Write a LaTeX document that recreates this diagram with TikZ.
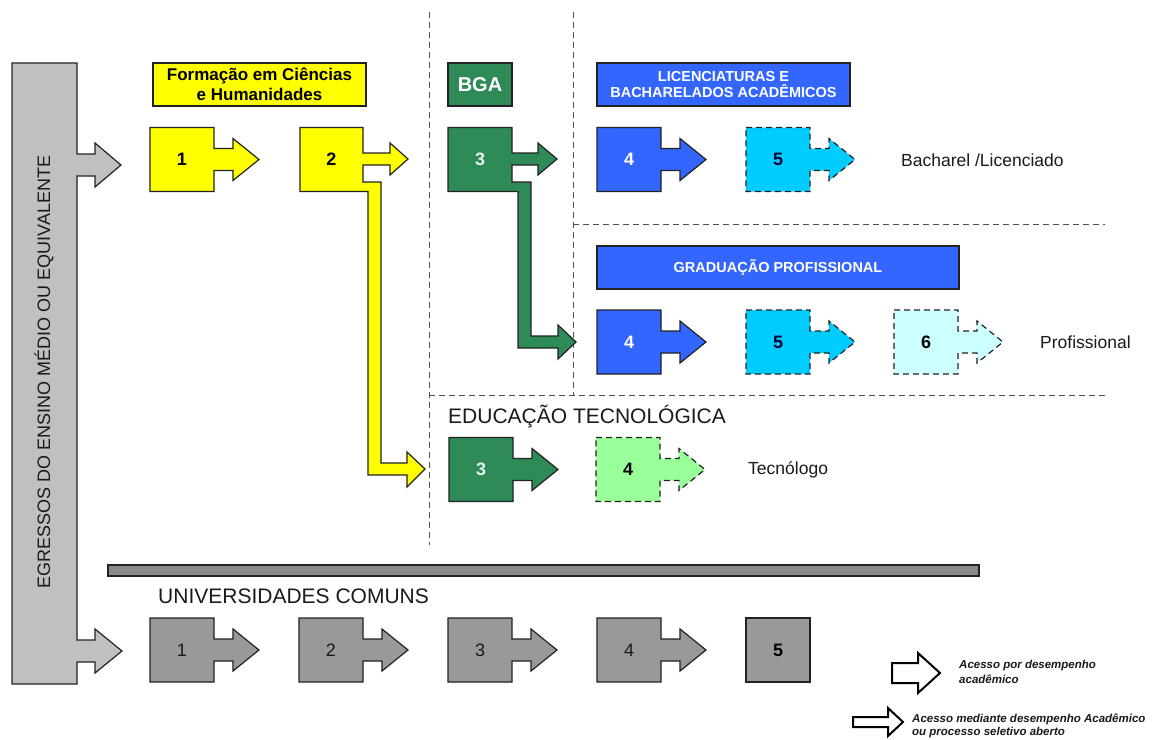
\documentclass[tikz,border=0pt]{standalone}
\usepackage{fontspec}
\setmainfont{Liberation Sans}
\definecolor{cYel}{RGB}{255,255,0}
\definecolor{cGrn}{RGB}{46,139,87}
\definecolor{cBlu}{RGB}{51,102,255}
\definecolor{cCya}{RGB}{0,204,255}
\definecolor{cLcy}{RGB}{204,255,255}
\definecolor{cLgr}{RGB}{153,255,153}
\definecolor{cGry}{RGB}{153,153,153}
\definecolor{cBar}{RGB}{192,192,192}
\definecolor{cDbar}{RGB}{138,138,138}
\definecolor{cLine}{RGB}{34,34,34}
\definecolor{cDash}{RGB}{80,80,80}
\definecolor{cTxt}{RGB}{26,26,26}
\newcommand{\ArrBox}[3]{\draw[#3] (#1,#2-32) -- ++(64,0) -- ++(0,21) -- ++(19,0) -- ++(0,-10) -- ++(26,21) -- ++(-26,21) -- ++(0,-10) -- ++(-19,0) -- ++(0,21) -- ++(-64,0) -- cycle;}
\tikzset{
  shp/.style={draw=cLine, line width=1.2pt, line join=miter},
  dsh/.style={shp, dash pattern=on 6pt off 4pt},
  sep/.style={draw=cDash, line width=0.9pt, dash pattern=on 6pt off 4pt},
  num/.style={font=\fontsize{18}{18}\selectfont\bfseries, inner sep=0pt},
  numr/.style={font=\fontsize{18}{18}\selectfont, inner sep=0pt, text=cTxt},
  lbl/.style={shp, inner sep=0pt, align=center},
  big/.style={font=\fontsize{21}{21}\selectfont, text=cTxt, inner sep=0pt, anchor=base west},
  outc/.style={font=\fontsize{17.5}{17.5}\selectfont, text=cTxt, inner sep=0pt, anchor=west},
  leg/.style={font=\fontsize{11.5}{11.5}\selectfont\bfseries\itshape, text=cTxt, inner sep=0pt, anchor=base west},
}
\begin{document}
\begin{tikzpicture}[x=1pt,y=-1pt]
\path[use as bounding box, fill=white] (0,0) rectangle (1156,739);

% separators
\draw[sep] (429,12) -- (429,545);
\draw[sep] (573,12) -- (573,395);
\draw[sep] (573,224) -- (1105,224);
\draw[sep] (429,395) -- (1105,395);

% left gray bar with two arrows
\draw[shp, fill=cBar] (12,63) -- (77,63) -- (77,154) -- (95,154) -- (95,143) -- (121,165) -- (95,187) -- (95,176) -- (77,176)
  -- (77,640) -- (95,640) -- (95,629) -- (122,651) -- (95,673) -- (95,662) -- (77,662) -- (77,684) -- (12,684) -- cycle;
\node[rotate=90, font=\fontsize{18}{18}\selectfont, text=cTxt] (egr) at (44,372) {EGRESSOS DO ENSINO MÉDIO OU EQUIVALENTE};

% header labels
\node[lbl, fill=cYel, minimum width=213pt, minimum height=43pt, font=\fontsize{17}{20}\selectfont\bfseries] (hfch) at (259.5,84.5) {Formação em Ciências\\e Humanidades};
\node[lbl, fill=cGrn, minimum width=64pt, minimum height=43pt, font=\fontsize{20}{20}\selectfont\bfseries, text=white] (hbga) at (480,84.5) {BGA};
\node[lbl, fill=cBlu, minimum width=253pt, minimum height=43pt, font=\fontsize{14.5}{16.5}\selectfont\bfseries, text=white] (hlic) at (723.5,84.5) {LICENCIATURAS E\\BACHARELADOS ACADÊMICOS};
\node[lbl, fill=cBlu, minimum width=362pt, minimum height=43pt, font=\fontsize{14.5}{16.5}\selectfont\bfseries, text=white] (hgrad) at (778,267.5) {GRADUAÇÃO PROFISSIONAL};

% top row
\ArrBox{150}{159.5}{shp, fill=cYel}
\node[num] (t1) at (182,159.5) {1};
\draw[shp, fill=cYel] (300,127.5) -- (363,127.5) -- (363,153) -- (390,153) -- (390,143) -- (408,159) -- (390,175) -- (390,165) -- (363,165) -- (363,182)
  -- (381,182) -- (381,463) -- (407,463) -- (407,452) -- (425,469) -- (407,487) -- (407,475) -- (368,475) -- (368,191.5) -- (300,191.5) -- cycle;
\node[num] (t2) at (331.5,159.5) {2};
\draw[shp, fill=cGrn] (448,127.5) -- (512,127.5) -- (512,153) -- (538,153) -- (538,143) -- (557,159) -- (538,175) -- (538,165) -- (512,165) -- (512,182)
  -- (531,182) -- (531,336) -- (558,336) -- (558,325) -- (576,342) -- (558,359) -- (558,348) -- (518,348) -- (518,191.5) -- (448,191.5) -- cycle;
\node[num, text=white!90!cGrn] (t3) at (480,159.5) {3};
\ArrBox{597}{159.5}{shp, fill=cBlu}
\node[num, text=white] (t4) at (629,159.5) {4};
\ArrBox{746}{159.5}{dsh, fill=cCya}
\node[num, text=black!80!blue] (t5) at (778,159.5) {5};
\node[outc] (obach) at (901,160) {Bacharel /Licenciado};

% profissional row
\ArrBox{597}{342}{shp, fill=cBlu}
\node[num, text=white] (p4) at (629,342) {4};
\ArrBox{746}{342}{dsh, fill=cCya}
\node[num, text=black!80!blue] (p5) at (778,342) {5};
\ArrBox{894}{342}{dsh, fill=cLcy}
\node[num] (p6) at (926,342) {6};
\node[outc] (oprof) at (1040,342) {Profissional};

% educacao tecnologica
\node[big] (hedu) at (448,423) {EDUCAÇÃO TECNOLÓGICA};
\ArrBox{449}{469.5}{shp, fill=cGrn}
\node[num, text=white!90!cGrn] (e3) at (481,469.5) {3};
\ArrBox{596}{469.5}{dsh, fill=cLgr}
\node[num] (e4) at (628,469.5) {4};
\node[outc] (otec) at (748,469.5) {Tecnólogo};

% universidades comuns
\draw[shp, fill=cDbar] (108,565) rectangle (979,576);
\node[big] (huni) at (158,603) {UNIVERSIDADES COMUNS};
\ArrBox{150}{650}{shp, fill=cGry}
\node[numr] (u1) at (182,650) {1};
\ArrBox{299}{650}{shp, fill=cGry}
\node[numr] (u2) at (331,650) {2};
\ArrBox{448}{650}{shp, fill=cGry}
\node[numr] (u3) at (480,650) {3};
\ArrBox{597}{650}{shp, fill=cGry}
\node[numr] (u4) at (629,650) {4};
\draw[shp, fill=cGry] (746,618) rectangle (810,682);
\node[num] (u5) at (778,650) {5};

% legend
\draw[draw=black, line width=2pt, fill=white, line join=miter] (892,663) -- (918,663) -- (918,653) -- (940,673) -- (918,693) -- (918,683) -- (892,683) -- cycle;
\node[leg] (lg1a) at (959,668) {Acesso por desempenho};
\node[leg] (lg1b) at (959,683) {acadêmico};
\draw[draw=black, line width=2pt, fill=white, line join=miter] (853,717) -- (888,717) -- (888,708) -- (903,722) -- (888,736) -- (888,727) -- (853,727) -- cycle;
\node[leg] (lg2a) at (912,722) {Acesso mediante desempenho Acadêmico};
\node[leg] (lg2b) at (912,735) {ou processo seletivo aberto};
\end{tikzpicture}
\end{document}
